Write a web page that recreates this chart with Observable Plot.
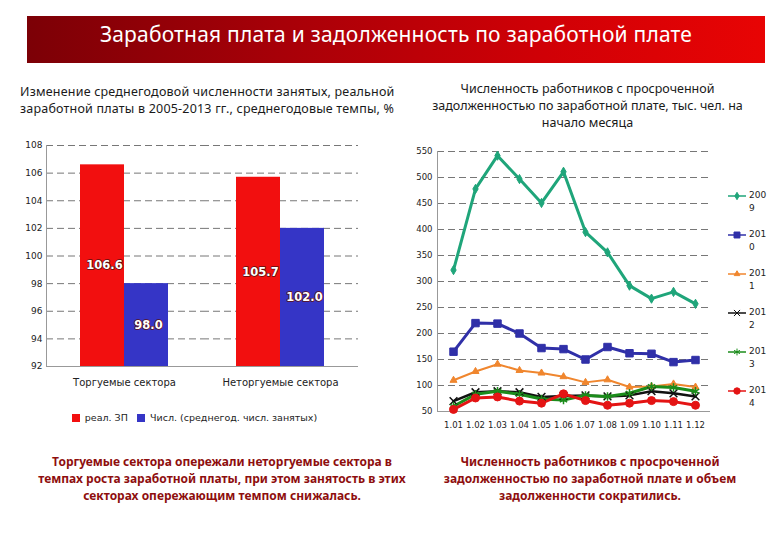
<!DOCTYPE html>
<html>
<head>
<meta charset="utf-8">
<script src="https://cdn.jsdelivr.net/npm/d3@7"></script>
<script src="https://cdn.jsdelivr.net/npm/@observablehq/plot@0.6"></script>
<style>
  body { margin: 0; background: #fff; }
  #root { position: relative; width: 780px; height: 540px; overflow: hidden; font-family: "Noto Sans", sans-serif; }
  .abs { position: absolute; }
  #banner { left: 27px; top: 16px; width: 738px; height: 47px;
    background: linear-gradient(to right, #7c0006 0%, #a80008 35%, #d00006 70%, #e80404 100%);
    color: #fff; font-size: 21px; text-align: center; line-height: 36px; letter-spacing: 0.2px; }
  .sub { font-size: 12.5px; color: #1a1a1a; line-height: 17px; }
  .cap { font-size: 12px; font-weight: bold; color: #8e0e0e; line-height: 17px; text-align: center; }
  .leg { font-family: "DejaVu Sans", sans-serif; font-size: 9px; color: #222; line-height: 13px; display: flex; }
</style>
</head>
<body>
<div id="root">
  <div id="banner" class="abs">Заработная плата и задолженность по заработной плате</div>
  <div class="abs sub" style="left:20px; top:83px; width:390px; letter-spacing:0.2px;">Изменение среднегодовой численности занятых, реальной<br>заработной платы в 2005-2013 гг., среднегодовые темпы, %</div>
  <div class="abs sub" style="left:410px; top:80px; width:355px; text-align:center;">Численность работников с просроченной<br>задолженностью по заработной плате, тыс. чел. на<br>начало месяца</div>
  <div id="left" class="abs" style="left:0px; top:135px;"></div>
  <div id="leftLegend" class="abs" style="left:72px; top:401px;"></div>
  <div id="right" class="abs" style="left:395px; top:140px;"></div>
  <div id="rightLegend" class="abs" style="left:727px; top:189px;"></div>
  <div class="abs cap" style="left:22px; top:453px; width:400px;">Торгуемые сектора опережали неторгуемые сектора в<br>темпах роста заработной платы, при этом занятость в этих<br>секторах опережающим темпом снижалась.</div>
  <div class="abs cap" style="left:420px; top:453px; width:340px;">Численность работников с просроченной<br>задолженностью по заработной плате и объем<br>задолженности сократились.</div>
</div>
<script>
// ---- Left chart data ----
const categories = ["Торгуемые сектора", "Неторгуемые сектора"];
const barSeries = ["реал. ЗП", "Числ. (среднегод. числ. занятых)"];
const wageGrowth = [106.6, 105.7];
const employmentGrowth = [98.0, 102.0];
const barTicks = [92, 94, 96, 98, 100, 102, 104, 106, 108];
const barColors = ["#f20f0f", "#3535c6"];

// ---- Right chart data ----
const months = ["1.01","1.02","1.03","1.04","1.05","1.06","1.07","1.08","1.09","1.10","1.11","1.12"];
const years = ["2009","2010","2011","2012","2013","2014"];
const arrears2009 = [322, 478, 542, 497, 451, 511, 395, 356, 292, 267, 280, 257];
const arrears2010 = [165, 220, 219, 200, 172, 170, 150, 174, 162, 161, 145, 149];
const arrears2011 = [110, 127, 141, 129, 124, 117, 106, 111, 97, 98, 103, 97];
const arrears2012 = [70, 87, 89, 87, 78, 80, 81, 79, 81, 89, 85, 79];
const arrears2013 = [60, 83, 89, 83, 74, 72, 81, 79, 85, 98, 96, 89];
const arrears2014 = [54, 76, 78, 70, 66, 84, 71, 62, 66, 71, 69, 62];
const lineTicks = [50, 100, 150, 200, 250, 300, 350, 400, 450, 500, 550];
const lineColors = ["#1fa57a", "#3030a8", "#f0862e", "#111111", "#1b8c1b", "#e41414"];
const lineSymbols = ["diamond", "square", "triangle", "times", "asterisk", "circle"];
const lineWidths = [3, 3, 2, 2.5, 3, 3];
const dotSizes = [2.8, 4.2, 2.6, 3.6, 4, 4];

// ---- Left bar chart ----
const barRows = [];
categories.forEach((c, i) => {
  barRows.push({category: c, series: barSeries[0], value: wageGrowth[i]});
  barRows.push({category: c, series: barSeries[1], value: employmentGrowth[i]});
});
const base = barTicks[0];

const left = Plot.plot({
  width: 375, height: 261,
  marginLeft: 46, marginTop: 10, marginRight: 17, marginBottom: 30,
  style: {fontFamily: "DejaVu Sans, sans-serif", fontSize: "9px", color: "#222", background: "transparent"},
  x: {domain: barSeries, axis: null, paddingInner: 0, paddingOuter: 0.77},
  fx: {domain: categories, padding: 0, label: null},
  y: {domain: [barTicks[0], barTicks[barTicks.length - 1]], label: null},
  color: {domain: barSeries, range: barColors},
  marks: [
    Plot.gridY(barTicks, {stroke: "#777", strokeOpacity: 1, strokeDasharray: "7,4"}),
    Plot.axisY(barTicks, {tickSize: 0, tickPadding: 4, label: null, fontSize: 9}),
    Plot.barY(barRows, {fx: "category", x: "series", y1: base, y2: "value", fill: "series"}),
    Plot.ruleY([base], {stroke: "#999"}),
    Plot.frame({anchor: "left", stroke: "#999", facetAnchor: "left"}),
    Plot.text(barRows, {fx: "category", x: "series", y: d => (base + d.value) / 2,
      text: d => d.value.toFixed(1), fill: "white", stroke: "#5a1010", strokeWidth: 1.5,
      paintOrder: "stroke", fontWeight: "bold", fontSize: 11.5, dx: 2}),
    Plot.axisFx({anchor: "bottom", tickSize: 0, tickPadding: 12, label: null, fontSize: 10})
  ]
});
document.getElementById("left").appendChild(left);

const leftLegend = Plot.legend({
  color: {type: "categorical", domain: barSeries, range: barColors},
  swatchSize: 8, swatchWidth: 8, swatchHeight: 8,
  style: {fontFamily: "DejaVu Sans, sans-serif", fontSize: "9.5px", color: "#222", margin: 0}
});
document.getElementById("leftLegend").appendChild(leftLegend);

// ---- Right line chart ----
const seriesValues = [arrears2009, arrears2010, arrears2011, arrears2012, arrears2013, arrears2014];
const lineRows = [];
years.forEach((yr, i) => months.forEach((m, j) => lineRows.push({year: yr, month: m, value: seriesValues[i][j]})));

const right = Plot.plot({
  width: 385, height: 300,
  marginLeft: 42, marginTop: 11, marginRight: 70, marginBottom: 29,
  style: {fontFamily: "DejaVu Sans, sans-serif", fontSize: "8.5px", color: "#222", background: "transparent"},
  x: {type: "point", domain: months, padding: 0.5, label: null},
  y: {domain: [lineTicks[0], lineTicks[lineTicks.length - 1]], label: null},
  color: {domain: years, range: lineColors},
  symbol: {domain: years, range: lineSymbols},
  marks: [
    Plot.gridY(lineTicks, {stroke: "#777", strokeOpacity: 1, strokeDasharray: "7,4"}),
    Plot.ruleY([lineTicks[0]], {stroke: "#999"}),
    Plot.frame({anchor: "left", stroke: "#999"}),
    Plot.axisY(lineTicks, {tickSize: 0, tickPadding: 5, label: null, fontSize: 8.5}),
    Plot.axisX({tickSize: 0, tickPadding: 10, label: null, fontSize: 8.5}),
    ...years.map((yr, i) => Plot.line(lineRows.filter(d => d.year === yr),
      {x: "month", y: "value", stroke: "year", strokeWidth: lineWidths[i]})),
    ...years.map((yr, i) => Plot.dot(lineRows.filter(d => d.year === yr),
      {x: "month", y: "value", symbol: "year", fill: "year", stroke: "year", r: dotSizes[i],
       strokeWidth: yr === "2012" || yr === "2013" ? 1.5 : 1}))
  ]
});
document.getElementById("right").appendChild(right);

// ---- Right legend ----
const symMap = {diamond: d3.symbolDiamond, square: d3.symbolSquare, triangle: d3.symbolTriangle,
  times: d3.symbolTimes, asterisk: d3.symbolAsterisk, circle: d3.symbolCircle};
const rl = d3.select("#rightLegend");
years.forEach((yr, i) => {
  const row = rl.append("div").attr("class", "leg").style("height", "39px");
  const s = row.append("svg").attr("width", 20).attr("height", 12).style("margin-top", "1px");
  s.append("line").attr("x1", 1).attr("x2", 19).attr("y1", 6).attr("y2", 6)
    .attr("stroke", lineColors[i]).attr("stroke-width", 1.5);
  const r = dotSizes[i] * 0.8;
  s.append("path").attr("transform", "translate(10,6)")
    .attr("d", d3.symbol(symMap[lineSymbols[i]], Math.PI * r * r)())
    .attr("fill", lineColors[i]).attr("stroke", lineColors[i]);
  row.append("div").style("margin-left", "2px").html(yr.slice(0, 3) + "<br>" + yr.slice(3));
});
</script>
</body>
</html>
